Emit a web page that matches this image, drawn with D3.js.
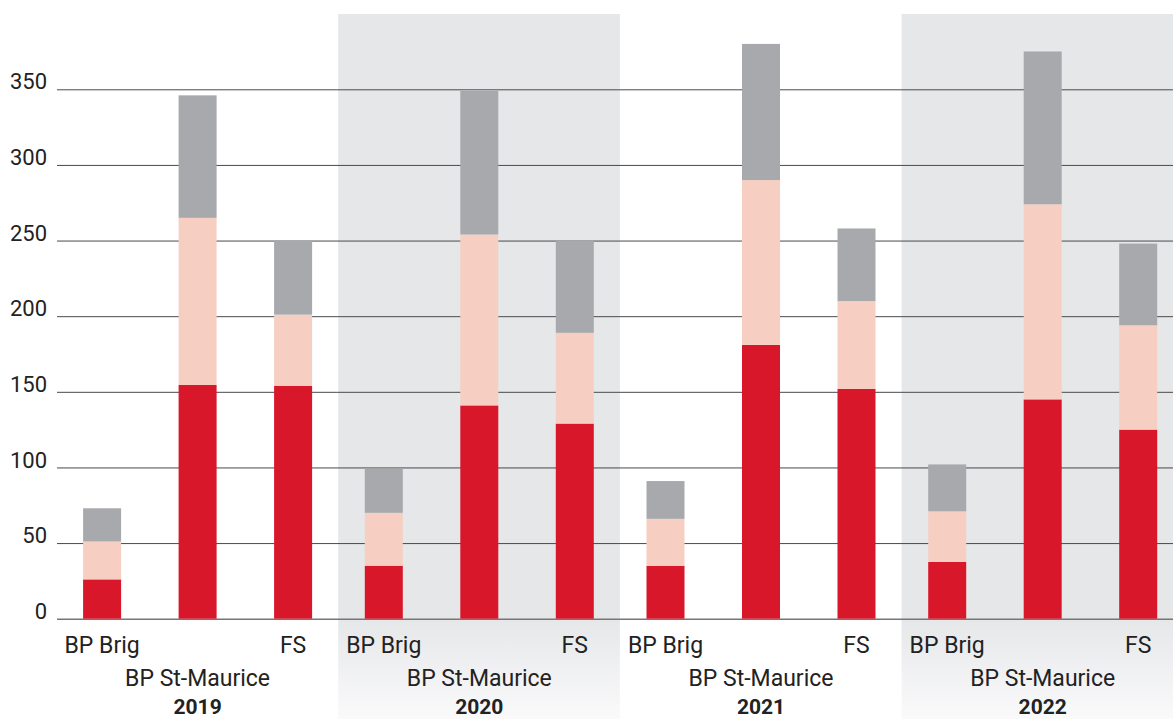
<!DOCTYPE html>
<html>
<head>
<meta charset="utf-8">
<script src="https://cdn.jsdelivr.net/npm/d3@7"></script>
<style>
  html, body { margin: 0; padding: 0; background: #fff; }
  svg { display: block; }
  text { font-family: Roboto, "Noto Sans", sans-serif; fill: #222; }
</style>
</head>
<body>
<svg id="chart" width="1173" height="719"></svg>
<script>
// ---- data ----
const years = ["2019", "2020", "2021", "2022"];
const sites = ["BP Brig", "BP St-Maurice", "FS"];
const shadedYears = ["2020", "2022"];
const yTicks = [0, 50, 100, 150, 200, 250, 300, 350];
// stacked segment values per year, in order of sites
const seriesRed = {
  "2019": [26, 154.5, 154],
  "2020": [35, 141, 129],
  "2021": [35, 181, 152],
  "2022": [37.5, 145, 125]
};
const seriesPink = {
  "2019": [25, 110.5, 47],
  "2020": [35, 113, 60],
  "2021": [31, 109, 58],
  "2022": [33.5, 129, 69]
};
const seriesGray = {
  "2019": [22, 81, 49],
  "2020": [29, 95, 61],
  "2021": [25, 90, 48],
  "2022": [31, 101, 54]
};
const seriesKeys = ["red", "pink", "gray"];
const seriesColors = { red: "#d8172b", pink: "#f6cfc2", gray: "#a8a9ac" };

// ---- build table ----
const rows = [];
years.forEach(y => sites.forEach((s, i) => {
  rows.push({ year: y, site: s, red: seriesRed[y][i], pink: seriesPink[y][i], gray: seriesGray[y][i] });
}));

const svg = d3.select("#chart");
const W = 1173, H = 719;

const x0 = d3.scaleBand().domain(years).range([56.5, 56.5 + 4 * 281.7]).padding(0);
const x1 = d3.scalePoint().domain(sites).range([45.6, 236.6]);
const barW = 38;
const y = d3.scaleLinear().domain([0, 350]).range([618.7, 89.3]);

// gradient for shaded bands
const defs = svg.append("defs");
const grad = defs.append("linearGradient").attr("id", "bandGrad")
  .attr("gradientUnits", "userSpaceOnUse").attr("x1", 0).attr("x2", 0).attr("y1", 14).attr("y2", H);
grad.append("stop").attr("offset", (619 - 14) / (H - 14)).attr("stop-color", "#e6e7e9");
grad.append("stop").attr("offset", 1).attr("stop-color", "#fafafb");

svg.append("g").selectAll("rect").data(shadedYears).join("rect")
  .attr("x", d => x0(d)).attr("y", 14)
  .attr("width", x0.bandwidth()).attr("height", H - 14)
  .attr("fill", "url(#bandGrad)");

// grid lines + y tick labels
const yAxis = d3.axisLeft(y).tickValues(yTicks).tickSize(-(W - 57)).tickPadding(10);
const gy = svg.append("g").attr("transform", "translate(57,0)").call(yAxis);
gy.select(".domain").remove();
gy.selectAll(".tick line").attr("stroke", d => d === 0 ? "#777" : "#4a4a4a").attr("stroke-width", d => d === 0 ? 1.6 : 1);
gy.selectAll(".tick text")
  .attr("font-size", 22).attr("fill", "#222").attr("x", -10).attr("dy", "-0.02em")
  .style("font-family", "Roboto, sans-serif");

// stacked bars
const stack = d3.stack().keys(seriesKeys);
const stacked = stack(rows);
svg.append("g").selectAll("g").data(stacked).join("g")
  .attr("fill", d => seriesColors[d.key])
  .selectAll("rect").data(d => d).join("rect")
  .attr("x", d => x0(d.data.year) + x1(d.data.site) - barW / 2)
  .attr("width", barW)
  .attr("y", d => y(d[1]))
  .attr("height", d => y(d[0]) - y(d[1]));

// x labels
const lg = svg.append("g");
years.forEach(yr => {
  sites.forEach((s, i) => {
    lg.append("text")
      .attr("x", x0(yr) + x1(s))
      .attr("y", i === 1 ? 686 : 653)
      .attr("text-anchor", "middle")
      .attr("font-size", 23)
      .text(s);
  });
  lg.append("text")
    .attr("x", x0(yr) + x1(sites[1]))
    .attr("y", 714)
    .attr("text-anchor", "middle")
    .attr("font-size", 21)
    .attr("font-weight", "bold")
    .text(yr);
});
</script>
</body>
</html>
